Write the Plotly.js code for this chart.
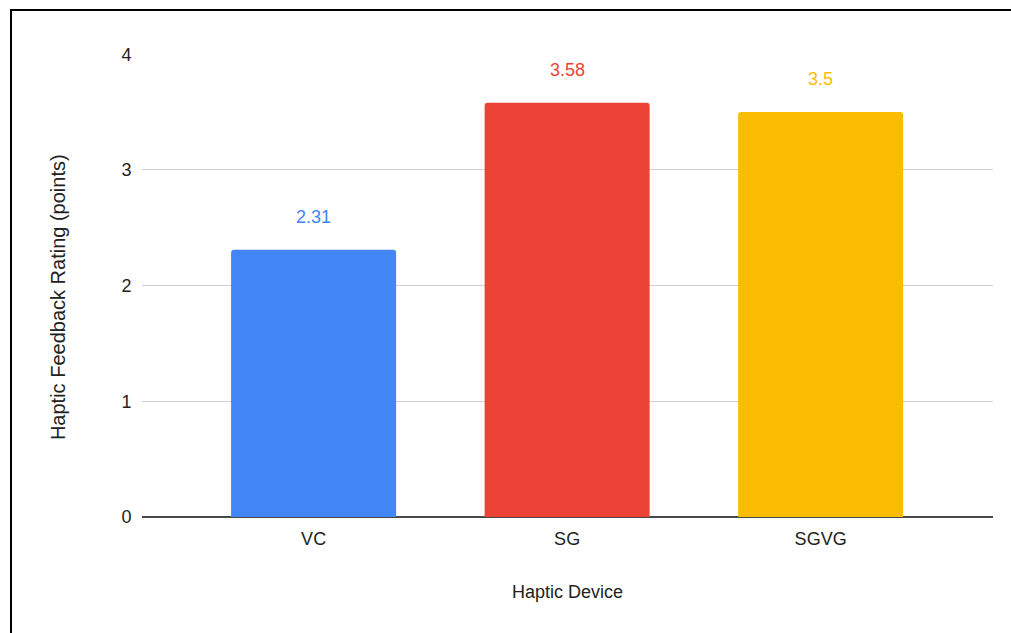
<!DOCTYPE html>
<html>
<head>
<meta charset="utf-8">
<script src="https://cdn.plot.ly/plotly-3.0.1.min.js"></script>
<style>
  html, body { margin: 0; padding: 0; background: #fff; overflow: hidden; }
  #chart { position: absolute; left: 0; top: 0; width: 1011px; height: 633px; }
  #frame {
    position: absolute; left: 10px; top: 9px; right: -10px; bottom: -10px;
    border-top: 2px solid #000; border-left: 2px solid #000;
    pointer-events: none;
  }
</style>
</head>
<body>
<div id="chart"></div>
<div id="frame"></div>
<script>
// Average haptic feedback rating per device
const devices = ['VC', 'SG', 'SGVG'];
const ratings = [2.31, 3.58, 3.5];
const barColors = ['#4285F4', '#EA4335', '#FBBC04'];
const yTicks = [0, 1, 2, 3, 4];
const xTitle = 'Haptic Device';
const yTitle = 'Haptic Feedback Rating (points)';

const FONT = 'Arial, "Liberation Sans", sans-serif';

const bars = {
  type: 'bar',
  x: devices,
  y: ratings,
  width: 0.651,
  marker: { color: barColors, line: { width: 0 } },
  hoverinfo: 'none'
};

// value labels floating above each bar
const valueLabels = devices.map((d, i) => ({
  x: d, y: ratings[i], xref: 'x', yref: 'y',
  text: String(ratings[i]),
  showarrow: false,
  yanchor: 'middle',
  yshift: 33,
  font: { family: FONT, size: 18, color: barColors[i] }
}));

// vertical axis caption, set a little below the plot's middle
const yCaption = {
  text: yTitle,
  xref: 'paper', yref: 'paper',
  x: 0, y: 0.475,
  xanchor: 'center', yanchor: 'middle',
  xshift: -84,
  textangle: -90,
  showarrow: false,
  font: { family: FONT, size: 20, color: '#222' }
};

const layout = {
  width: 1011,
  height: 633,
  margin: { l: 142, r: 18, t: 54, b: 116 },
  paper_bgcolor: '#fff',
  plot_bgcolor: '#fff',
  showlegend: false,
  barcornerradius: 3,
  font: { family: FONT, size: 18, color: '#222' },
  xaxis: {
    type: 'category',
    range: [-0.677, 2.68],
    showgrid: false,
    showline: false,
    zeroline: false,
    ticks: 'outside', ticklen: 5, tickcolor: 'rgba(0,0,0,0)',
    tickfont: { family: FONT, size: 18, color: '#222' },
    title: { text: xTitle, font: { family: FONT, size: 18, color: '#222' }, standoff: 37 },
    fixedrange: true
  },
  yaxis: {
    range: [0, 4.002],
    tickvals: yTicks,
    ticktext: yTicks.map(String),
    showgrid: true,
    gridcolor: '#d0d0d0',
    gridwidth: 1,
    zeroline: true,
    zerolinecolor: '#484848',
    zerolinewidth: 2,
    showline: false,
    ticks: 'outside', ticklen: 6, tickcolor: 'rgba(0,0,0,0)',
    tickfont: { family: FONT, size: 18, color: '#222' },
    fixedrange: true
  },
  annotations: valueLabels.concat([yCaption])
};

Plotly.newPlot('chart', [bars], layout, { staticPlot: true, displayModeBar: false });
</script>
</body>
</html>
